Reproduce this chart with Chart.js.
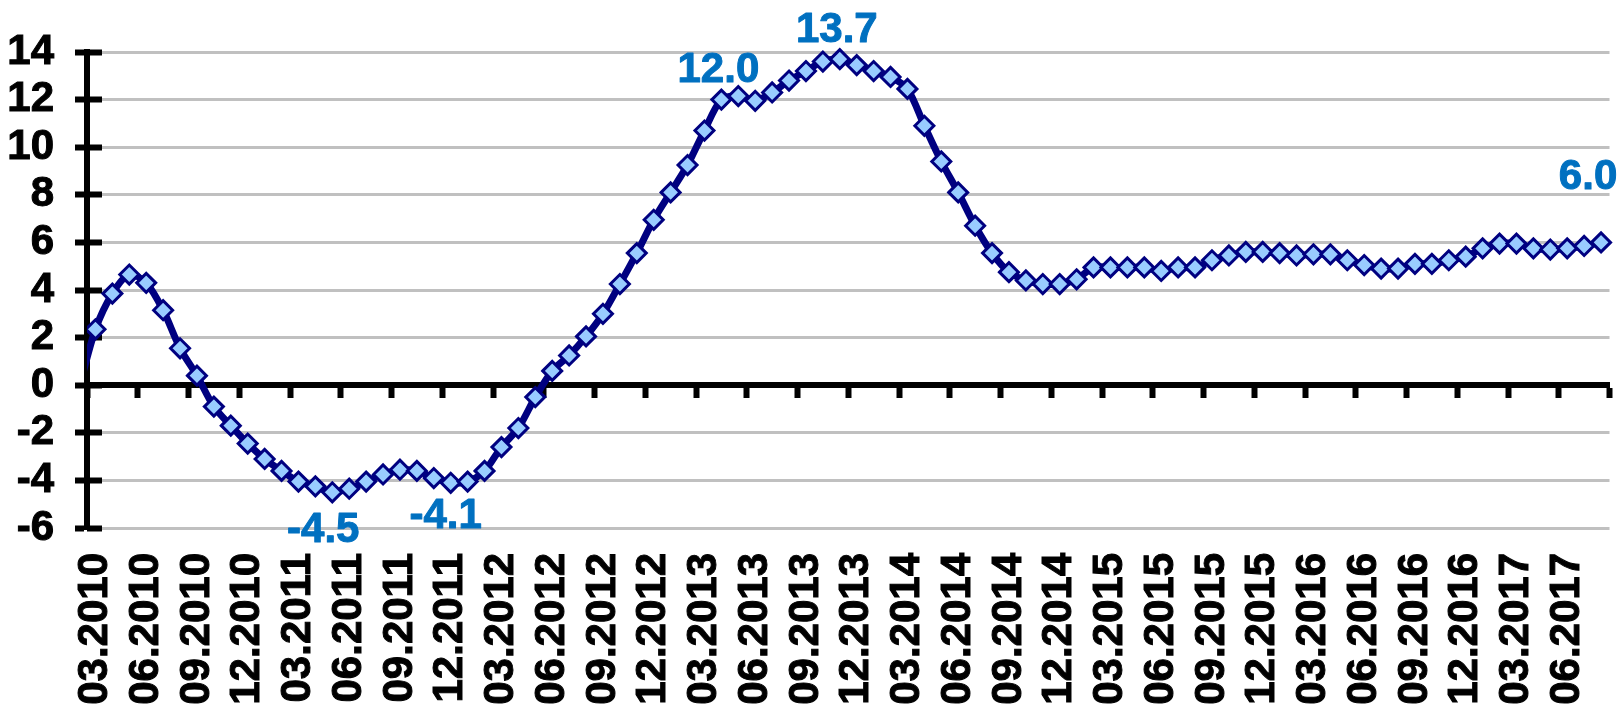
<!DOCTYPE html>
<html>
<head>
<meta charset="utf-8">
<script src="https://cdn.jsdelivr.net/npm/chart.js@4.4.1/dist/chart.umd.min.js"></script>
<style>
html,body{margin:0;padding:0;background:#ffffff;}
canvas{display:block;}
</style>
</head>
<body>
<canvas id="c" width="1622" height="705"></canvas>
<script>
// ---- DATA ----
const months = [
  '02.2010','03.2010','04.2010','05.2010','06.2010','07.2010','08.2010','09.2010','10.2010','11.2010','12.2010',
  '01.2011','02.2011','03.2011','04.2011','05.2011','06.2011','07.2011','08.2011','09.2011','10.2011','11.2011','12.2011',
  '01.2012','02.2012','03.2012','04.2012','05.2012','06.2012','07.2012','08.2012','09.2012','10.2012','11.2012','12.2012',
  '01.2013','02.2013','03.2013','04.2013','05.2013','06.2013','07.2013','08.2013','09.2013','10.2013','11.2013','12.2013',
  '01.2014','02.2014','03.2014','04.2014','05.2014','06.2014','07.2014','08.2014','09.2014','10.2014','11.2014','12.2014',
  '01.2015','02.2015','03.2015','04.2015','05.2015','06.2015','07.2015','08.2015','09.2015','10.2015','11.2015','12.2015',
  '01.2016','02.2016','03.2016','04.2016','05.2016','06.2016','07.2016','08.2016','09.2016','10.2016','11.2016','12.2016',
  '01.2017','02.2017','03.2017','04.2017','05.2017','06.2017','07.2017','08.2017'
];

const values = [
  -0.2,
  2.35, 3.85, 4.65, 4.3, 3.15, 1.55, 0.4, -0.9, -1.7, -2.45,
  -3.1, -3.6, -4.05, -4.25, -4.5, -4.35, -4.05, -3.75, -3.55, -3.6, -3.9, -4.1,
  -4.05, -3.6, -2.6, -1.8, -0.5, 0.6, 1.25, 2.05, 3.0, 4.25, 5.55, 6.95,
  8.1, 9.25, 10.7, 12.0, 12.15, 11.95, 12.3, 12.8, 13.2, 13.6, 13.7, 13.45,
  13.2, 12.95, 12.45, 10.9, 9.4, 8.1, 6.7, 5.55, 4.75, 4.4, 4.25, 4.25,
  4.45, 4.95, 4.95, 4.95, 4.95, 4.8, 4.95, 4.95, 5.25, 5.45, 5.6, 5.6,
  5.55, 5.45, 5.5, 5.5, 5.25, 5.05, 4.9, 4.9, 5.1, 5.1, 5.25, 5.4,
  5.75, 5.95, 5.95, 5.75, 5.7, 5.75, 5.85, 6.0
];

const tickLabels = [
  '03.2010','06.2010','09.2010','12.2010',
  '03.2011','06.2011','09.2011','12.2011',
  '03.2012','06.2012','09.2012','12.2012',
  '03.2013','06.2013','09.2013','12.2013',
  '03.2014','06.2014','09.2014','12.2014',
  '03.2015','06.2015','09.2015','12.2015',
  '03.2016','06.2016','09.2016','12.2016',
  '03.2017','06.2017'
];

const yTickValues = [-6, -4, -2, 0, 2, 4, 6, 8, 10, 12, 14];

const labelledMonths = ['05.2011', '12.2011', '04.2013', '11.2013', '08.2017'];

// ---- derived structures for the library ----
const firstShown = months.indexOf('03.2010');
const xMin = firstShown;
const xMax = months.length;
const points = values.map((v, k) => ({ x: k + 0.5, y: v }));
const tickMarkPositions = [];
for (let v = xMin; v <= xMax; v += 3) tickMarkPositions.push(v);
const labelPositions = tickLabels.map(l => months.indexOf(l) + 0.5);

// ---- styles / placement (not data) ----
const FONT_FAMILY = '"Liberation Sans", Arial, Helvetica, sans-serif';
const labelPlacement = {
  '05.2011': { dx: -9, dy: 50 },
  '12.2011': { dx: -5, dy: 45 },
  '04.2013': { dx: -3, dy: -18 },
  '11.2013': { dx: -3, dy: -17 },
  '08.2017': { dx: -13, dy: -53 }
};

const pointLabels = {
  id: 'pointLabels',
  afterDatasetsDraw(chart) {
    const meta = chart.getDatasetMeta(0);
    const ctx = chart.ctx;
    ctx.save();
    ctx.font = 'bold 42px ' + FONT_FAMILY;
    ctx.fillStyle = '#0070C0';
    ctx.strokeStyle = '#0070C0';
    ctx.lineWidth = 1;
    ctx.lineJoin = 'round';
    ctx.textAlign = 'center';
    ctx.textBaseline = 'alphabetic';
    labelledMonths.forEach(m => {
      const k = months.indexOf(m);
      const el = meta.data[k];
      const p = labelPlacement[m] || { dx: 0, dy: -18 };
      const txt = values[k].toFixed(1);
      ctx.strokeText(txt, el.x + p.dx, el.y + p.dy);
      ctx.fillText(txt, el.x + p.dx, el.y + p.dy);
    });
    ctx.restore();
  }
};

const axisFont = { family: FONT_FAMILY, size: 42, weight: 'bold' };

new Chart(document.getElementById('c'), {
  type: 'line',
  data: {
    datasets: [{
      data: points,
      borderColor: '#000080',
      borderWidth: 7,
      tension: 0.3,
      fill: false,
      pointStyle: 'rectRot',
      pointRadius: c => (c.index < firstShown ? 0 : 9.5),
      pointBackgroundColor: '#99CCFF',
      pointBorderColor: '#000080',
      pointBorderWidth: 3,
      clip: { left: 0, right: false, top: false, bottom: false }
    }]
  },
  options: {
    responsive: false,
    devicePixelRatio: 1,
    animation: false,
    events: [],
    layout: { padding: { top: 52, right: 10, bottom: 0, left: 0 } },
    plugins: { legend: { display: false }, tooltip: { enabled: false } },
    scales: {
      x: {
        type: 'linear',
        position: { y: 0 },
        min: xMin,
        max: xMax,
        afterBuildTicks: s => { s.ticks = tickMarkPositions.map(v => ({ value: v })); },
        ticks: { display: false, autoSkip: false },
        grid: { drawOnChartArea: false, drawTicks: true, tickLength: 10, tickColor: '#000000', tickWidth: 6 },
        border: { display: true, color: '#000000', width: 6 }
      },
      xl: {
        type: 'linear',
        axis: 'x',
        position: 'bottom',
        min: xMin,
        max: xMax,
        afterBuildTicks: s => { s.ticks = labelPositions.map(v => ({ value: v })); },
        afterFit: s => { s.height = 177; s.paddingLeft = 0; s.paddingRight = 0; },
        ticks: {
          autoSkip: false, minRotation: 90, maxRotation: 90, padding: 25,
          color: '#000000', font: axisFont,
          textStrokeColor: '#000000', textStrokeWidth: 1,
          callback: (v, i) => tickLabels[i]
        },
        grid: { display: false, drawTicks: false },
        border: { display: false }
      },
      y: {
        type: 'linear',
        position: 'left',
        min: -6,
        max: 14,
        afterBuildTicks: s => { s.ticks = yTickValues.map(v => ({ value: v })); },
        afterFit: s => { s.width = 87; },
        ticks: {
          color: '#000000', font: axisFont, padding: 21, autoSkip: false,
          textStrokeColor: '#000000', textStrokeWidth: 1
        },
        grid: { color: '#C0C0C0', lineWidth: 3, tickColor: '#000000', tickWidth: 6, tickLength: 12 },
        border: { display: true, color: '#000000', width: 6 }
      },
      yIn: {
        type: 'linear',
        axis: 'y',
        position: { x: xMin },
        min: -6,
        max: 14,
        afterBuildTicks: s => { s.ticks = yTickValues.map(v => ({ value: v })); },
        ticks: { display: false, autoSkip: false },
        grid: { drawOnChartArea: false, drawTicks: true, tickLength: -15, tickColor: '#000000', tickWidth: 6 },
        border: { display: false }
      }
    }
  },
  plugins: [pointLabels]
});
</script>
</body>
</html>
